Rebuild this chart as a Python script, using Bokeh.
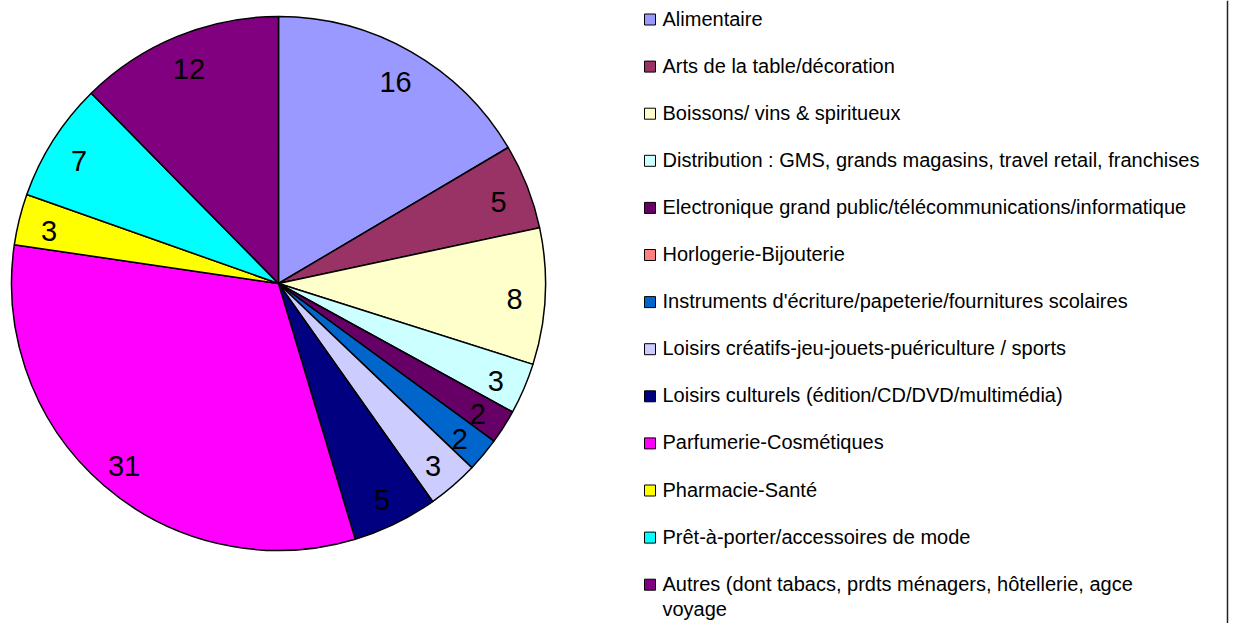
import math
from bokeh.plotting import figure
from bokeh.models import Range1d, ColumnDataSource
from bokeh.core.properties import value
from bokeh.embed import file_html
from bokeh.resources import INLINE

categories = [
    "Alimentaire",
    "Arts de la table/décoration",
    "Boissons/ vins & spiritueux",
    "Distribution : GMS, grands magasins, travel retail, franchises",
    "Electronique grand public/télécommunications/informatique",
    "Horlogerie-Bijouterie",
    "Instruments d'écriture/papeterie/fournitures scolaires",
    "Loisirs créatifs-jeu-jouets-puériculture / sports",
    "Loisirs culturels (édition/CD/DVD/multimédia)",
    "Parfumerie-Cosmétiques",
    "Pharmacie-Santé",
    "Prêt-à-porter/accessoires de mode",
    "Autres (dont tabacs, prdts ménagers, hôtellerie, agce\nvoyage",
]
values = [16, 5, 8, 3, 2, 0, 2, 3, 5, 31, 3, 7, 12]
colors = ["#9999FF", "#993366", "#FFFFCC", "#CCFFFF", "#660066", "#FF8080",
          "#0066CC", "#CCCCFF", "#000080", "#FF00FF", "#FFFF00", "#00FFFF", "#800080"]

W, H = 1236, 623
p = figure(width=W, height=H, output_backend="svg", toolbar_location=None,
           x_range=Range1d(0, W), y_range=Range1d(0, H), min_border=0)
p.axis.visible = False
p.grid.visible = False
p.outline_line_color = None

def sy(py):
    return H - py

cx, cy, R = 278, sy(283), 267
total = sum(values)
starts, ends, mids = [], [], []
cum = 0
for v in values:
    a0 = math.pi / 2 - 2 * math.pi * cum / total
    cum += v
    a1 = math.pi / 2 - 2 * math.pi * cum / total
    starts.append(a0); ends.append(a1); mids.append((a0 + a1) / 2)

idx = [i for i, v in enumerate(values) if v > 0]
wsrc = ColumnDataSource(dict(
    start=[starts[i] for i in idx], end=[ends[i] for i in idx],
    color=[colors[i] for i in idx]))
p.wedge(x=cx, y=cy, radius=R, start_angle="start", end_angle="end",
        direction="clock", fill_color="color", line_color="black",
        line_width=1.5, source=wsrc)

lr = 0.885 * R
lsrc = ColumnDataSource(dict(
    x=[cx + lr * math.cos(mids[i]) for i in idx],
    y=[cy + lr * math.sin(mids[i]) - 4 for i in idx],
    t=[str(values[i]) for i in idx]))
p.text(x="x", y="y", text="t", source=lsrc, text_align="center",
       text_baseline="middle", text_font=value("Liberation Sans"),
       text_font_size="29px", text_color="black")

# legend
n = len(categories)
ly = [sy(19 + 47.1 * i) for i in range(n)]
p.rect(x=[649.5] * n, y=ly, width=11, height=11, fill_color=colors,
       line_color="black", line_width=1)
p.text(x=[662] * n, y=[y + 12 for y in ly], text=categories, text_align="left",
       text_baseline="top", text_font=value("Liberation Sans"),
       text_font_size="20px", text_color="black", text_line_height=1.15)

p.segment(x0=[1227], y0=[0], x1=[1227], y1=[H], line_color="#222222", line_width=1.5)

open("out.html", "w").write(file_html(p, INLINE))
